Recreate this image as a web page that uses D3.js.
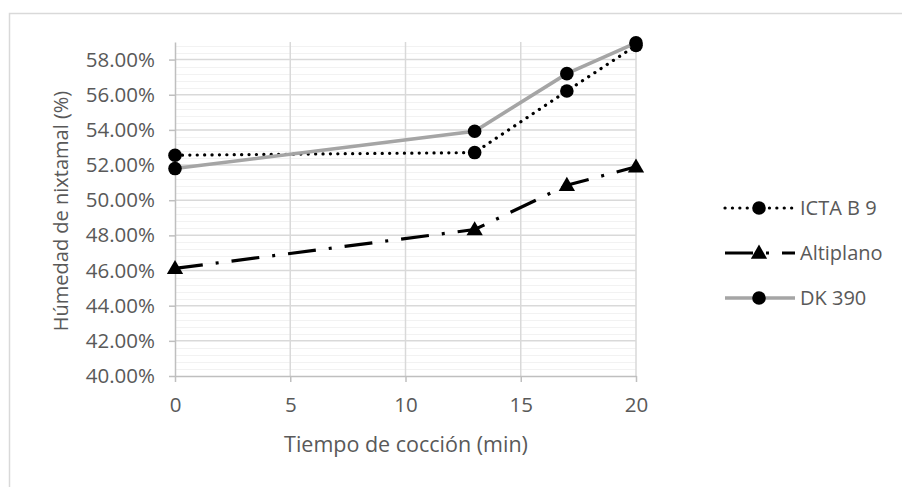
<!DOCTYPE html>
<html lang="es">
<head>
<meta charset="UTF-8">
<title>Húmedad de nixtamal</title>
<style>
  body { margin: 0; background: #fff; }
  text { font-family: "Open Sans", "Liberation Sans", sans-serif; fill: #595959; }
</style>
</head>
<body>
<svg id="chart" width="902" height="487"></svg>
<script src="https://d3js.org/d3.v7.min.js"></script>
<script>
// data
const tiempos = [0, 13, 17, 20];
const ictaB9 = [52.56, 52.71, 56.21, 58.80];
const altiplano = [46.12, 48.33, 50.85, 51.90];
const dk390 = [51.80, 53.92, 57.20, 58.95];
const xTicks = [0, 5, 10, 15, 20];
const yTicks = [40, 42, 44, 46, 48, 50, 52, 54, 56, 58];

const series = [
  { name: "ICTA B 9", values: ictaB9, color: "#000", width: 3.2, dash: "0.1 7.3", cap: "round", marker: "circle" },
  { name: "Altiplano", values: altiplano, color: "#000", width: 3.2, dash: "28 13 3 13", cap: "butt", marker: "triangle" },
  { name: "DK 390", values: dk390, color: "#a5a5a5", width: 3.6, dash: null, cap: "butt", marker: "circle" }
];

const svg = d3.select("#chart");
const margin = { top: 42, left: 175 };
const width = 461, height = 334;

// chart border
svg.append("rect")
  .attr("x", 9.5).attr("y", 13.5)
  .attr("width", 900).attr("height", 500)
  .attr("fill", "#fff").attr("stroke", "#d9d9d9").attr("stroke-width", 1.5);

const g = svg.append("g").attr("transform", `translate(${margin.left},${margin.top})`);

const x = d3.scaleLinear().domain([0, 20]).range([0, width]);
const y = d3.scaleLinear().domain([40, 59]).range([height, 0]);

// minor gridlines
g.append("g").selectAll("line")
  .data(d3.range(40.4, 59, 0.4).filter(v => Math.abs(v / 2 - Math.round(v / 2)) > 0.01))
  .join("line")
  .attr("x1", 0).attr("x2", width)
  .attr("y1", d => Math.round(y(d)) + 0.5).attr("y2", d => Math.round(y(d)) + 0.5)
  .attr("stroke", "#f2f2f2").attr("stroke-width", 1);

// major gridlines
g.append("g").selectAll("line")
  .data(yTicks.slice(1))
  .join("line")
  .attr("x1", 0).attr("x2", width)
  .attr("y1", d => y(d)).attr("y2", d => y(d))
  .attr("stroke", "#d9d9d9").attr("stroke-width", 1.5);

g.append("g").selectAll("line")
  .data(xTicks.slice(1))
  .join("line")
  .attr("x1", d => x(d)).attr("x2", d => x(d))
  .attr("y1", 0).attr("y2", height)
  .attr("stroke", "#d9d9d9").attr("stroke-width", 1.5);

// axes
const yAxis = g.append("g")
  .call(d3.axisLeft(y).tickValues(yTicks).tickFormat(d => d.toFixed(2) + "%").tickSize(6).tickPadding(14).tickSizeOuter(0));
const xAxis = g.append("g")
  .attr("transform", `translate(0,${height})`)
  .call(d3.axisBottom(x).tickValues(xTicks).tickSize(6).tickPadding(15).tickSizeOuter(0));

[yAxis, xAxis].forEach(a => {
  a.select(".domain").attr("stroke", "#bfbfbf").attr("stroke-width", 1.5);
  a.selectAll(".tick line").attr("stroke", "#bfbfbf").attr("stroke-width", 1.5);
  a.selectAll(".tick text").style("font-size", "20.5px").attr("fill", "#595959")
    .style("font-family", '"Open Sans", "Liberation Sans", sans-serif');
});

// lines and markers
const line = d3.line().x((d, i) => x(tiempos[i])).y(d => y(d));
const triangle = d3.symbol().type(d3.symbolTriangle).size(115);

series.forEach(s => {
  g.append("path")
    .attr("d", line(s.values))
    .attr("fill", "none")
    .attr("stroke", s.color)
    .attr("stroke-width", s.width)
    .attr("stroke-linecap", s.cap)
    .attr("stroke-dasharray", s.dash);

  const m = g.append("g").selectAll(".m")
    .data(s.values)
    .join(s.marker === "circle" ? "circle" : "path")
    .attr("fill", "#000");
  if (s.marker === "circle") {
    m.attr("cx", (d, i) => x(tiempos[i])).attr("cy", d => y(d)).attr("r", 6.8);
  } else {
    m.attr("d", triangle).attr("transform", (d, i) => `translate(${x(tiempos[i])},${y(d) + 1})`);
  }
});

// axis titles
svg.append("text")
  .attr("x", 406).attr("y", 452)
  .attr("text-anchor", "middle")
  .style("font-size", "21.5px")
  .text("Tiempo de cocción (min)");

svg.append("text")
  .attr("transform", "rotate(-90)")
  .attr("x", -211).attr("y", 68)
  .attr("text-anchor", "middle")
  .style("font-size", "20px")
  .text("Húmedad de nixtamal (%)");

// legend
const legendY = [208, 253, 298];
const legend = svg.append("g").attr("transform", "translate(725,0)");
series.forEach((s, i) => {
  const row = legend.append("g").attr("transform", `translate(0,${legendY[i]})`);
  row.append("line")
    .attr("x1", 0).attr("x2", 70).attr("y1", 0).attr("y2", 0)
    .attr("stroke", s.color)
    .attr("stroke-width", s.width)
    .attr("stroke-linecap", s.cap)
    .attr("stroke-dasharray", s.dash);
  if (s.marker === "circle") {
    row.append("circle").attr("cx", 34).attr("cy", 0).attr("r", 6.8).attr("fill", "#000");
  } else {
    row.append("path").attr("d", triangle).attr("transform", "translate(34,1)").attr("fill", "#000");
  }
  row.append("text")
    .attr("x", 75).attr("y", 0).attr("dy", "0.35em")
    .style("font-size", "20px")
    .text(s.name);
});
</script>
</body>
</html>
